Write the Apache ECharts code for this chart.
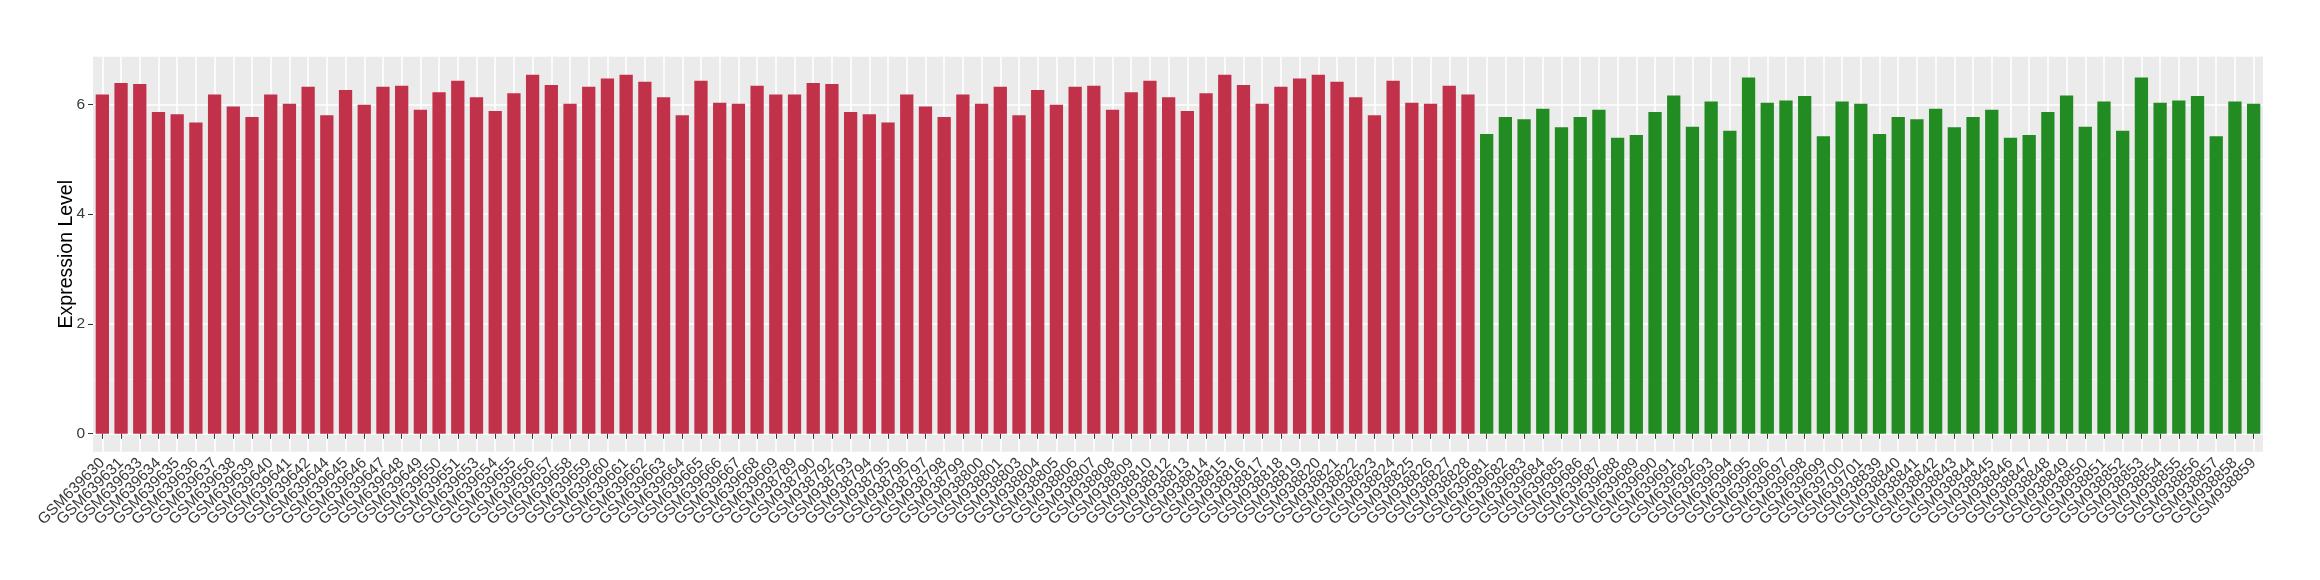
<!DOCTYPE html>
<html>
<head>
<meta charset="utf-8">
<title>Expression Level</title>
<script src="https://cdn.jsdelivr.net/npm/echarts@6.0.0/dist/echarts.min.js"></script>
<style>
  html, body { margin: 0; padding: 0; background: #fff; }
  #chart { width: 2320px; height: 580px; }
</style>
</head>
<body>
<div id="chart"></div>
<script>
// sample names, in plotting order
const redSamples1 = ['GSM639630','GSM639631','GSM639633','GSM639634','GSM639635','GSM639636','GSM639637','GSM639638','GSM639639','GSM639640',
  'GSM639641','GSM639642','GSM639644','GSM639645','GSM639646','GSM639647','GSM639648','GSM639649','GSM639650','GSM639651',
  'GSM639653','GSM639654','GSM639655','GSM639656','GSM639657','GSM639658','GSM639659','GSM639660','GSM639661','GSM639662',
  'GSM639663','GSM639664','GSM639665','GSM639666','GSM639667','GSM639668','GSM639669']
const redSamples2 = ['GSM938789','GSM938790','GSM938792','GSM938793','GSM938794','GSM938795','GSM938796','GSM938797','GSM938798','GSM938799',
  'GSM938800','GSM938801','GSM938803','GSM938804','GSM938805','GSM938806','GSM938807','GSM938808','GSM938809','GSM938810',
  'GSM938812','GSM938813','GSM938814','GSM938815','GSM938816','GSM938817','GSM938818','GSM938819','GSM938820','GSM938821',
  'GSM938822','GSM938823','GSM938824','GSM938825','GSM938826','GSM938827','GSM938828']
const greenSamples1 = ['GSM639681','GSM639682','GSM639683','GSM639684','GSM639685','GSM639686','GSM639687','GSM639688','GSM639689','GSM639690',
  'GSM639691','GSM639692','GSM639693','GSM639694','GSM639695','GSM639696','GSM639697','GSM639698','GSM639699','GSM639700','GSM639701']
const greenSamples2 = ['GSM938839','GSM938840','GSM938841','GSM938842','GSM938843','GSM938844','GSM938845','GSM938846','GSM938847','GSM938848',
  'GSM938849','GSM938850','GSM938851','GSM938852','GSM938853','GSM938854','GSM938855','GSM938856','GSM938857','GSM938858','GSM938859']

// expression values
const redValues1 = [6.18, 6.39, 6.37, 5.86, 5.82, 5.67, 6.18, 5.96, 5.77, 6.18,
  6.01, 6.32, 5.80, 6.26, 5.99, 6.32, 6.34, 5.90, 6.22, 6.43,
  6.13, 5.88, 6.20, 6.54, 6.35, 6.01, 6.32, 6.47, 6.54, 6.41,
  6.13, 5.80, 6.43, 6.03, 6.01, 6.34, 6.18]
const redValues2 = [6.18, 6.39, 6.37, 5.86, 5.82, 5.67, 6.18, 5.96, 5.77, 6.18,
  6.01, 6.32, 5.80, 6.26, 5.99, 6.32, 6.34, 5.90, 6.22, 6.43,
  6.13, 5.88, 6.20, 6.54, 6.35, 6.01, 6.32, 6.47, 6.54, 6.41,
  6.13, 5.80, 6.43, 6.03, 6.01, 6.34, 6.18]
const greenValues1 = [5.46, 5.77, 5.73, 5.92, 5.58, 5.77, 5.90, 5.39, 5.44, 5.86,
  6.16, 5.59, 6.05, 5.52, 6.49, 6.03, 6.07, 6.15, 5.42, 6.05, 6.01]
const greenValues2 = [5.46, 5.77, 5.73, 5.92, 5.58, 5.77, 5.90, 5.39, 5.44, 5.86,
  6.16, 5.59, 6.05, 5.52, 6.49, 6.03, 6.07, 6.15, 5.42, 6.05, 6.01]

const yTicks = [0, 2, 4, 6]

const categories = [...redSamples1, ...redSamples2, ...greenSamples1, ...greenSamples2]
const redValues = [...redValues1, ...redValues2]
const greenValues = [...greenValues1, ...greenValues2]
const redData = categories.map((c, i) => i < redValues.length ? redValues[i] : '-')
const greenData = categories.map((c, i) => i < redValues.length ? '-' : greenValues[i - redValues.length])

const font = '"Liberation Sans", Arial, Helvetica, sans-serif'

const chart = echarts.init(document.getElementById('chart'), null, { renderer: 'canvas' })
chart.setOption({
  animation: false,
  textStyle: { fontFamily: font },
  grid: {
    left: 93,
    right: 57,
    top: 56.7,
    bottom: 128.3,
    show: true,
    backgroundColor: '#EBEBEB',
    borderWidth: 0,
    outerBoundsMode: 'none'
  },
  xAxis: {
    type: 'category',
    data: categories,
    boundaryGap: true,
    axisLine: { show: false },
    axisTick: { show: true, alignWithLabel: true, length: 5, lineStyle: { color: '#333333', width: 1 } },
    splitLine: { show: true, alignWithLabel: true, lineStyle: { color: '#FFFFFF', width: 1.6 } },
    axisLabel: {
      interval: 0,
      rotate: 45,
      margin: 9,
      color: '#3A3A3A',
      fontSize: 15.5,
      fontFamily: font
    }
  },
  yAxis: {
    type: 'value',
    min: -0.327,
    max: 6.867,
    minInterval: 2,
    maxInterval: 2,
    name: 'Expression Level',
    nameLocation: 'middle',
    nameGap: 16,
    nameMoveOverlap: false,
    nameTextStyle: { color: '#000000', fontSize: 19.5, fontFamily: font },
    axisLine: { show: false },
    axisTick: { show: true, length: 5, customValues: yTicks, lineStyle: { color: '#333333', width: 1 } },
    axisLabel: { margin: 8, customValues: yTicks, color: '#3A3A3A', fontSize: 15.5, fontFamily: font },
    splitLine: { show: true, lineStyle: { color: '#FFFFFF', width: 1.6 } },
    minorTick: { show: false, splitNumber: 2 },
    minorSplitLine: { show: true, lineStyle: { color: '#F7F7F7', width: 0.8 } }
  },
  series: [{
    name: 'red',
    type: 'bar',
    data: redData,
    barWidth: '71%',
    barGap: '-100%',
    itemStyle: { color: '#C2314A' }
  }, {
    name: 'green',
    type: 'bar',
    data: greenData,
    barWidth: '71%',
    barGap: '-100%',
    itemStyle: { color: '#228B22' }
  }]
})
</script>
</body>
</html>
